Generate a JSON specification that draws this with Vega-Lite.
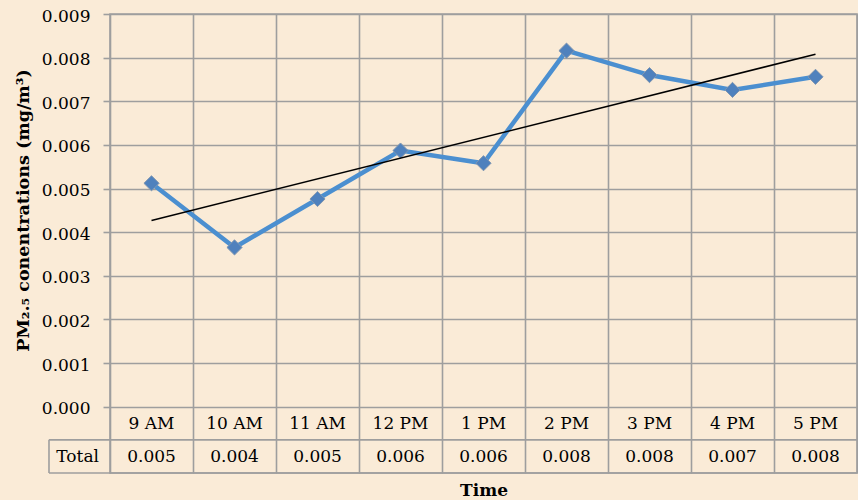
{
  "$schema": "https://vega.github.io/schema/vega-lite/v6.json",
  "width": 747,
  "height": 459,
  "autosize": {"type": "none"},
  "padding": {"left": 110, "top": 14, "right": 1, "bottom": 27},
  "background": "#FAEBD7",
  "config": {
    "view": {"stroke": "#9E9E9E", "strokeWidth": 1.6},
    "font": "DejaVu Serif",
    "axis": {"labelFont": "DejaVu Serif", "titleFont": "DejaVu Serif", "labelColor": "#000000", "titleColor": "#000000"}
  },
  "data": {
    "values": [
      {"t": "9 AM", "i": 1, "v": 0.00512},
      {"t": "10 AM", "i": 2, "v": 0.00365},
      {"t": "11 AM", "i": 3, "v": 0.00476},
      {"t": "12 PM", "i": 4, "v": 0.00587},
      {"t": "1 PM", "i": 5, "v": 0.00558},
      {"t": "2 PM", "i": 6, "v": 0.00816},
      {"t": "3 PM", "i": 7, "v": 0.00760},
      {"t": "4 PM", "i": 8, "v": 0.00726},
      {"t": "5 PM", "i": 9, "v": 0.00756}
    ]
  },
  "encoding": {
    "x": {
      "field": "i",
      "type": "quantitative",
      "scale": {"domain": [0.5, 9.5], "nice": false, "zero": false},
      "axis": {
        "values": [0.5, 1.5, 2.5, 3.5, 4.5, 5.5, 6.5, 7.5, 8.5, 9.5],
        "labels": false,
        "ticks": false,
        "domain": false,
        "grid": true,
        "gridColor": "#9E9E9E",
        "gridWidth": 1.6,
        "title": "Time",
        "titleFontSize": 17,
        "titleFontWeight": "bold",
        "titlePadding": 9
      }
    },
    "y": {
      "field": "v",
      "type": "quantitative",
      "scale": {"domain": [-0.00152, 0.009], "nice": false, "zero": false},
      "axis": {
        "values": [0, 0.001, 0.002, 0.003, 0.004, 0.005, 0.006, 0.007, 0.008, 0.009],
        "format": ".3f",
        "grid": true,
        "gridColor": "#9E9E9E",
        "gridWidth": 1.6,
        "domain": false,
        "tickColor": "#9E9E9E",
        "tickWidth": 1.6,
        "tickSize": 7,
        "labelPadding": 13,
        "labelFontSize": 17,
        "labelOffset": 2,
        "title": "PM₂.₅ conentrations (mg/m³)",
        "titleFontSize": 17.5,
        "titleFontWeight": "bold",
        "titlePadding": 9,
        "titleY": 196
      }
    }
  },
  "layer": [
    {
      "mark": {"type": "line", "color": "#4B8FD0", "strokeWidth": 4.5}
    },
    {
      "mark": {"type": "point", "shape": "diamond", "size": 230, "filled": true, "fill": "#4F81BD", "stroke": "#8096B0", "strokeWidth": 1, "opacity": 1}
    },
    {
      "transform": [{"regression": "v", "on": "i"}],
      "mark": {"type": "line", "color": "#000000", "strokeWidth": 1.5}
    },
    {
      "mark": {"type": "text", "fontSize": 17, "baseline": "middle", "align": "center", "dy": 1},
      "encoding": {
        "y": {"datum": -0.00038},
        "text": {"field": "t"}
      }
    },
    {
      "mark": {"type": "text", "fontSize": 17, "baseline": "middle", "align": "center", "dy": 1},
      "encoding": {
        "y": {"datum": -0.00114},
        "text": {"field": "v", "format": ".3f"}
      }
    },
    {
      "transform": [{"filter": "datum.i == 1"}],
      "mark": {"type": "text", "fontSize": 17, "baseline": "middle", "align": "center", "dy": 1},
      "encoding": {
        "x": {"datum": 0.11},
        "y": {"datum": -0.00114},
        "text": {"value": "Total"}
      }
    },
    {
      "transform": [{"filter": "datum.i == 1"}],
      "mark": {"type": "rule", "color": "#9E9E9E", "strokeWidth": 1.6},
      "encoding": {
        "x": {"datum": -0.235},
        "x2": {"datum": 9.5},
        "y": {"datum": -0.00076}
      }
    },
    {
      "transform": [{"filter": "datum.i == 1"}],
      "mark": {"type": "rule", "color": "#9E9E9E", "strokeWidth": 1.6},
      "encoding": {
        "x": {"datum": -0.235},
        "x2": {"datum": 9.5},
        "y": {"datum": -0.00152}
      }
    },
    {
      "transform": [{"filter": "datum.i == 1"}],
      "mark": {"type": "rule", "color": "#9E9E9E", "strokeWidth": 1.6},
      "encoding": {
        "x": {"datum": -0.235},
        "y": {"datum": -0.00076},
        "y2": {"datum": -0.00152}
      }
    }
  ]
}
